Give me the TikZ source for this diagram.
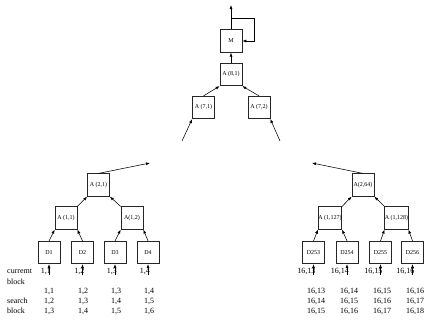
\documentclass[tikz,border=0pt]{standalone}
\usepackage{fontspec}
\setmainfont{Liberation Serif}
\usetikzlibrary{arrows.meta}
\begin{document}
\begin{tikzpicture}[x=1pt,y=-1pt,
  pe/.style={draw=black!85,line width=0.7pt,minimum width=22pt,minimum height=22.5pt,
    inner sep=0pt,font=\fontsize{6}{7}\selectfont},
  link/.style={line width=0.55pt,-{Latex[length=4pt,width=3pt]}},
  lbl/.style={inner sep=0pt,font=\fontsize{8}{9}\selectfont},
  val/.style={inner sep=0pt,font=\fontsize{8}{9}\selectfont}]
\useasboundingbox (0,0) rectangle (425,322);

% root and feedback
\node[pe] (M) at (231,41) {M};
\node[pe] (A81) at (231,74.5) {A (8,1)};
\node[pe] (A71) at (203.5,107.5) {A (7,1)};
\node[pe] (A72) at (259,107.5) {A (7,2)};
\coordinate (out) at (231,5);
\coordinate (fb) at (231,18);
\coordinate (in71) at (182,141);
\coordinate (in72) at (280,141);
\draw[link] (M.north) -- (out);
\draw[link] (fb) -| (254,41) -- (M.east);
\draw[link] (A81.north) -- (M.south);
\draw[link] (A71.north) -- (A81.south west);
\draw[link] (A72.north) -- (A81.south east);
\draw[link] (in71) -- (A71.south west);
\draw[link] (in72) -- (A72.south east);

% left subtree
\node[pe] (A21) at (98.5,185) {A (2,1)};
\node[pe] (A11) at (66,218) {A (1,1)};
\node[pe] (A12) at (132,218) {A(1,2)};
\coordinate (up21) at (150,163);
\draw[link] (A21.north) -- (up21);
\draw[link] (A11.north east) -- (A21.south west);
\draw[link] (A12.north west) -- (A21.south east);
\foreach \n/\x/\p in {1/49/A11.south west,2/82.5/A11.south east,3/115/A12.south west,4/148/A12.south east}{
  \node[pe] (D\n) at (\x,252.5) {D\n};
  \draw[link] (D\n.north) -- (\p);
  \coordinate (s\n) at (\x,275);
  \draw[link] (s\n) -- (D\n.south);
  \node[val,anchor=east] (c\n) at (\x+2,271) {1,\n};
}

% right subtree
\node[pe] (A264) at (363,185) {A(2,64)};
\node[pe] (A127) at (330,218) {A (1,127)};
\node[pe] (A128) at (396.5,218) {A (1,128)};
\coordinate (up264) at (312,163);
\draw[link] (A264.north) -- (up264);
\draw[link] (A127.north east) -- (A264.south west);
\draw[link] (A128.north west) -- (A264.south east);
\foreach \n/\x/\p/\c in {253/313.5/A127.south west/13,254/347/A127.south east/14,255/380.5/A128.south west/15,256/412.5/A128.south east/16}{
  \node[pe] (D\n) at (\x,252.5) {D\n};
  \draw[link] (D\n.north) -- (\p);
  \coordinate (s\n) at (\x,275);
  \draw[link] (s\n) -- (D\n.south);
  \node[val,anchor=east] (c\n) at (\x+2,271) {16,\c};
}

% row captions
\node[lbl,anchor=west] (cur) at (7,271) {curremt};
\node[lbl,anchor=west] (curb) at (7,282) {block};
\node[lbl,anchor=west] (srch) at (7,301) {search};
\node[lbl,anchor=west] (srchb) at (7,311) {block};

% search block values
\foreach \k/\x in {1/49,2/83,3/116,4/149}{
  \foreach \r/\y in {0/291,1/301,2/311}{
    \pgfmathtruncatemacro{\v}{\k+\r}
    \node[val] at (\x,\y) {1,\v};
  }
}
\foreach \k/\x in {13/316,14/349,15/382,16/415}{
  \foreach \r/\y in {0/291,1/301,2/311}{
    \pgfmathtruncatemacro{\v}{\k+\r}
    \node[val] at (\x,\y) {16,\v};
  }
}
\end{tikzpicture}
\end{document}
